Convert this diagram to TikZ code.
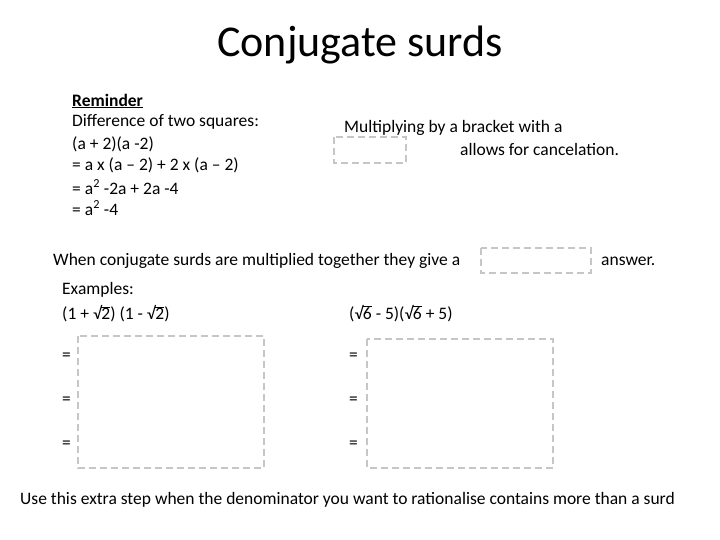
\documentclass[tikz,border=0pt]{standalone}
\usepackage{fontspec}
\setmainfont{Carlito}
\newcommand\sqr[1]{√\kern-0.3pt$\overline{\mbox{#1}}$}
\begin{document}
\begin{tikzpicture}[x=1pt,y=-1pt,
  txt/.style={anchor=west,inner sep=0pt,font=\fontsize{17.5}{20}\selectfont},
  gap/.style={draw=gray!45,line width=2pt,dash pattern=on 7pt off 4pt}]
\useasboundingbox (0,0) rectangle (720,540);
\node[font=\fontsize{44}{48}\selectfont,inner sep=0pt] (title) at (360,45) {Conjugate surds};
\node[txt] (rem) at (72,101) {\underline{\textbf{Reminder}}};
\node[txt] (d1) at (72,122) {Difference of two squares:};
\node[txt] (d2) at (72,144) {(a + 2)(a -2)};
\node[txt] (d3) at (72,165) {= a x (a -- 2) + 2 x (a -- 2)};
\node[txt] (d4) at (72,187) {= a\textsuperscript{2} -2a + 2a -4};
\node[txt] (d5) at (72,208) {= a\textsuperscript{2} -4};
\node[txt] (m1) at (344,128) {Multiplying by a bracket with a};
\node[txt] (m2) at (460,149) {allows for cancelation.};
\draw[gap] (334,137) rectangle (406,163);
\node[txt] (w) at (53,261) {When conjugate surds are multiplied together they give a};
\node[txt] (ans) at (601,261) {answer.};
\draw[gap] (481,248) rectangle (591,273);
\node[txt] (ex) at (62,290) {Examples:};
\node[txt] (e1) at (62,314) {(1 + \sqr{2}) (1 - \sqr{2})};
\node[txt] (e2) at (349,314) {(\sqr{6} - 5)(\sqr{6} + 5)};
\foreach \y/\n in {357/a,401/b,445/c}{
  \node[txt] (l\n) at (62,\y) {=};
  \node[txt] (r\n) at (349,\y) {=};
}
\draw[gap] (78,336) rectangle (264,468);
\draw[gap] (367,339) rectangle (553,468);
\node[txt] (foot) at (20,500) {Use this extra step when the denominator you want to rationalise contains more than a surd};
\end{tikzpicture}
\end{document}
